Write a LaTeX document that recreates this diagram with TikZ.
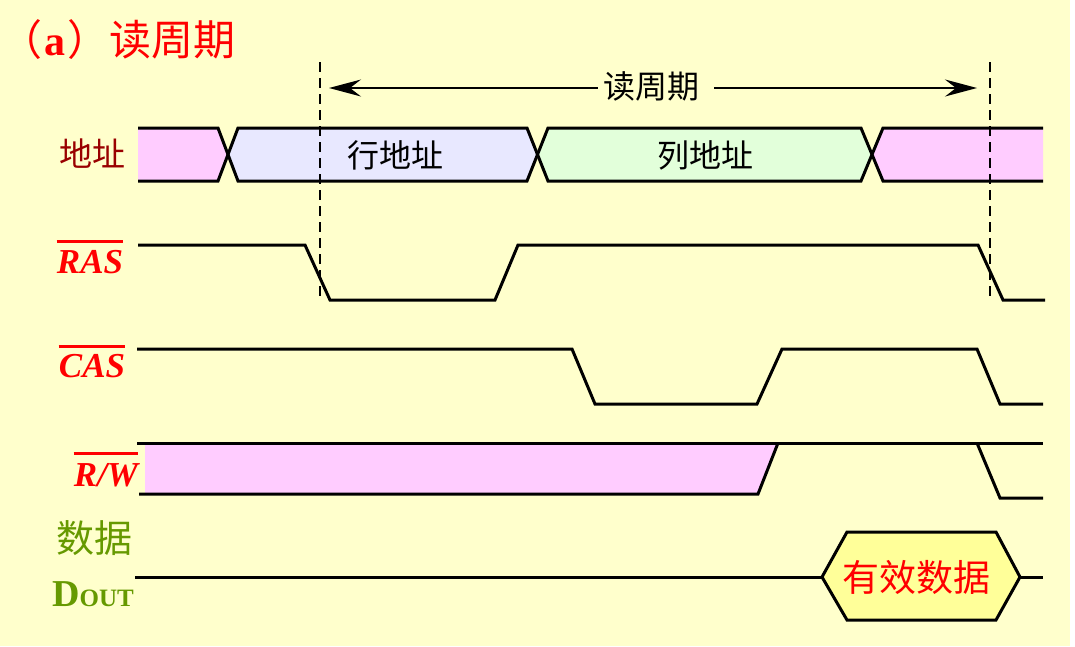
\documentclass[tikz,border=0pt]{standalone}
\usepackage{fontspec}
\setmainfont{Liberation Serif}
\newfontfamily\cjk{Noto Sans CJK SC}
\usetikzlibrary{arrows.meta}
\definecolor{bg}{HTML}{FFFFCC}
\definecolor{pinkf}{HTML}{FFCCFF}
\definecolor{lavf}{HTML}{E8E8FF}
\definecolor{grnf}{HTML}{E2FFDA}
\definecolor{yelf}{HTML}{FFFF99}
\definecolor{dred}{HTML}{990000}
\definecolor{olivegrn}{HTML}{669900}
\newcommand\fsz[1]{\fontsize{#1}{#1}\selectfont}
\tikzset{
  sig/.style={line width=3pt, line join=miter},
  guide/.style={line width=2.8pt, dash pattern=on 10pt off 6pt},
  span/.style={line width=1.5pt, -{Stealth[length=32pt,width=17pt,inset=11pt]}},
  lbl/.style={inner sep=0pt},
  ovl/.style={red, line width=3pt},
}
\begin{document}
\begin{tikzpicture}[x=1pt,y=-1pt]
\useasboundingbox (0,0) rectangle (1075,646);
\fill[white] (0,0) rectangle (1075,646);
\fill[bg] (0,0) rectangle (1070,646);

% title
\node[lbl, red, anchor=west, font=\fsz{42}] (title) at (0,40) {{\cjk （}\kern2pt\textbf{a}\kern2pt{\cjk ）读周期}};

% left labels
\node[lbl, dred, font=\cjk\fsz{33}] (addr) at (92,154) {地址};
\node[lbl, red, font=\bfseries\itshape\fsz{35}, anchor=base] (ras) at (90,273) {RAS};
\draw[ovl] ([yshift=8pt]ras.north west) -- ([yshift=8pt]ras.north east);
\node[lbl, red, font=\bfseries\itshape\fsz{35}, anchor=base] (cas) at (92,377) {CAS};
\draw[ovl] ([yshift=7.5pt]cas.north west) -- ([yshift=7.5pt]cas.north east);
\node[lbl, red, font=\bfseries\itshape\fsz{35}, anchor=base] (rw) at (106,486) {R/W};
\draw[ovl] ([yshift=9.5pt]rw.north west) -- ([yshift=9.5pt]rw.north east);
\node[lbl, olivegrn, font=\cjk\fsz{38}] (data) at (94,538) {数据};
\node[lbl, olivegrn, font=\bfseries, anchor=base] (dout) at (93,606) {{\fsz{38}D}{\fsz{25}OUT}};

% address bus fills
\fill[pinkf] (138,128) -- (218,128) -- (228,154.5) -- (218,181) -- (138,181) -- cycle;
\fill[lavf] (228,154.5) -- (238,128) -- (527,128) -- (537.5,154.5) -- (527,181) -- (238,181) -- cycle;
\fill[grnf] (537.5,154.5) -- (548,128) -- (861,128) -- (872,154.5) -- (861,181) -- (548,181) -- cycle;
\fill[pinkf] (872,154.5) -- (883,128) -- (1043,128) -- (1043,181) -- (883,181) -- cycle;
\draw[sig] (138,128) -- (218,128) -- (238,181) -- (527,181) -- (548,128) -- (861,128) -- (883,181) -- (1043,181);
\draw[sig] (138,181) -- (218,181) -- (238,128) -- (527,128) -- (548,181) -- (861,181) -- (883,128) -- (1043,128);
\node[lbl, font=\cjk\fsz{32}] (rowa) at (395,155) {行地址};
\node[lbl, font=\cjk\fsz{32}] (cola) at (705,155) {列地址};

% RAS
\draw[sig] (138,245) -- (305,245) -- (330,300) -- (495,300) -- (518,245) -- (978,245) -- (1003,300) -- (1045,300);
% CAS
\draw[sig] (137,349) -- (572,349) -- (595,404) -- (757,404) -- (782,349) -- (977,349) -- (1000,404) -- (1043,404);
% R/W
\fill[pinkf] (145,443) -- (778,443) -- (758,494) -- (145,494) -- cycle;
\draw[sig] (137,443) -- (1043,443);
\draw[sig] (139,494) -- (758,494) -- (778,443);
\draw[sig] (977,443) -- (1000,498) -- (1043,498);
% Data out
\draw[sig] (135,577) -- (822,577);
\draw[sig, fill=yelf] (822,577) -- (847,532) -- (996,532) -- (1020,577) -- (996,620) -- (847,620) -- cycle;
\draw[sig] (1020,577) -- (1043,577);
\node[lbl, red, font=\cjk\fsz{37}] (valid) at (916,577) {有效数据};

% dashed guides
\draw[guide] (320,62) -- (320,300);
\draw[guide] (990,62) -- (990,300);

% read cycle span
\coordinate (aL) at (329,88);
\coordinate (aR) at (977,88);
\node[lbl, font=\cjk\fsz{32}, inner xsep=5pt] (rp) at (651,86) {读周期};
\draw[span] (rp.west |- aL) -- (aL);
\draw[span] ([xshift=10pt]rp.east |- aR) -- (aR);
\end{tikzpicture}
\end{document}
